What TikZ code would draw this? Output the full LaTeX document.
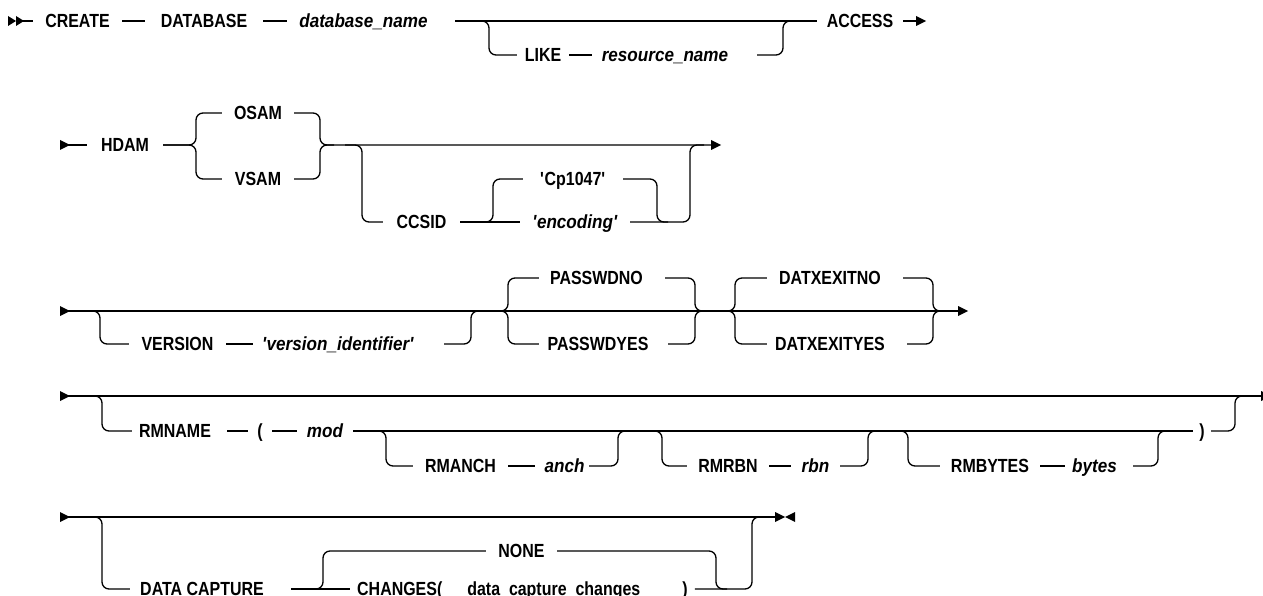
\documentclass[tikz,border=0pt]{standalone}
\usepackage{fontspec}
\setmainfont{Liberation Sans}[FakeStretch=0.84]
\newfontfamily\varfont{Liberation Sans}[FakeStretch=0.9]
\begin{document}
\begin{tikzpicture}[x=1pt,y=-1pt,
  kw/.style={inner xsep=0pt, inner ysep=0pt, text height=13.5pt, text depth=0pt, font=\fontsize{19}{21}\selectfont\bfseries, anchor=center},
  var/.style={kw, font=\fontsize{19}{21}\selectfont\varfont\bfseries\itshape},
  rail/.style={line width=1.3pt, rounded corners=7pt},
  track/.style={line width=1.3pt},
  tip/.style={fill=black}]
\useasboundingbox (0,0) rectangle (1263,596);

% ---------------- Row 1 ----------------
\fill[tip] (8,16) -- (16,21) -- (8,26) -- cycle;
\fill[tip] (16,16) -- (24,21) -- (16,26) -- cycle;
\node[kw,minimum width=89] (create) at (77.5,21) {CREATE};
\node[kw,minimum width=118] (database) at (204,21) {DATABASE};
\node[var,minimum width=168] (dbname) at (371,21) {database\_name\hspace*{15pt}};
\node[kw,minimum width=86] (access) at (860,21) {ACCESS};
\coordinate (end1) at (917,21);
\draw[track] (20,21) -- (create) -- (database) -- (dbname) -- (access) -- (end1);
\fill[tip] (916,16) -- (926,21) -- (916,26) -- cycle;
\node[kw,minimum width=52] (like) at (543,55) {LIKE};
\node[var,minimum width=165] (resname) at (674.5,55) {resource\_name\hspace*{19pt}};
\draw[rail] (476,21) -- (489,21) -- (489,55) -- (like.west);
\draw[track] (like) -- (resname);
\draw[rail] (resname.east) -- (783,55) -- (783,21) -- (796,21);

% ---------------- Row 2 ----------------
\fill[tip] (60,140) -- (70,145) -- (60,150) -- cycle;
\node[kw,minimum width=76] (hdam) at (125,145) {HDAM};
\draw[track] (65,145) -- (hdam);
\node[kw,minimum width=72] (osam) at (258,113) {OSAM};
\node[kw,minimum width=72] (vsam) at (258,179) {VSAM};
\draw[rail] (hdam.east) -- (196,145) -- (196,113) -- (osam.west);
\draw[rail] (hdam.east) -- (196,145) -- (196,179) -- (vsam.west);
\draw[rail] (osam.east) -- (320,113) -- (320,145) -- (712,145);
\draw[rail] (vsam.east) -- (320,179) -- (320,145) -- (334,145);
\fill[tip] (711,140) -- (721,145) -- (711,150) -- cycle;
\node[kw,minimum width=77] (ccsid) at (421.5,222) {CCSID};
\node[kw,minimum width=100] (cp) at (573,179) {\textquotesingle Cp1047\textquotesingle};
\node[var,minimum width=110] (enc) at (575,222) {\textquotesingle encoding\textquotesingle};
\draw[rail] (345,145) -- (362,145) -- (362,222) -- (ccsid.west);
\draw[track] (ccsid) -- (enc);
\draw[rail] (475,222) -- (493,222) -- (493,179) -- (cp.west);
\draw[rail] (cp.east) -- (657,179) -- (657,222) -- (668,222);
\draw[rail] (enc.east) -- (690,222) -- (690,145) -- (704,145);

% ---------------- Row 3 ----------------
\fill[tip] (60,306) -- (70,311) -- (60,316) -- cycle;
\draw[track] (65,311) -- (958,311);
\fill[tip] (958,306) -- (968,311) -- (958,316) -- cycle;
\node[kw,minimum width=97] (version) at (177.5,344) {VERSION};
\node[var,minimum width=191] (vid) at (348.5,344) {\textquotesingle version\_identifier\textquotesingle\hspace*{21pt}};
\draw[rail] (85,311) -- (100,311) -- (100,344) -- (version.west);
\draw[track] (version) -- (vid);
\draw[rail] (vid.east) -- (471,344) -- (471,311) -- (485,311);
\node[kw,minimum width=126] (pno) at (602,278) {PASSWDNO\hspace*{11pt}};
\node[kw,minimum width=129] (pyes) at (603.5,344) {PASSWDYES\hspace*{11pt}};
\draw[rail] (495,311) -- (508,311) -- (508,278) -- (pno.west);
\draw[rail] (495,311) -- (508,311) -- (508,344) -- (pyes.west);
\draw[rail] (pno.east) -- (695,278) -- (695,311) -- (708,311);
\draw[rail] (pyes.east) -- (695,344) -- (695,311) -- (708,311);
\node[kw,minimum width=136] (dno) at (835,278) {DATXEXITNO\hspace*{10pt}};
\node[kw,minimum width=140] (dyes) at (837,344) {DATXEXITYES\hspace*{14pt}};
\draw[rail] (722,311) -- (735,311) -- (735,278) -- (dno.west);
\draw[rail] (722,311) -- (735,311) -- (735,344) -- (dyes.west);
\draw[rail] (dno.east) -- (933,278) -- (933,311) -- (946,311);
\draw[rail] (dyes.east) -- (933,344) -- (933,311) -- (946,311);

% ---------------- Row 4 ----------------
\fill[tip] (60,391) -- (70,396) -- (60,401) -- cycle;
\draw[track] (65,396) -- (1262,396);
\fill[tip] (1261,391) -- (1271,396) -- (1261,401) -- cycle;
\node[kw,minimum width=95] (rmname) at (179.5,431) {RMNAME\hspace*{9pt}};
\node[kw,minimum width=24] (lp) at (260,431) {(};
\node[var,minimum width=56] (mod) at (325,431) {mod};
\node[kw,minimum width=18] (rp) at (1202,431) {)};
\draw[rail] (85,396) -- (102,396) -- (102,431) -- (rmname.west);
\draw[track] (rmname) -- (lp) -- (mod) -- (rp);
\draw[rail] (rp.east) -- (1235,431) -- (1235,396) -- (1248,396);
\node[kw,minimum width=95] (rmanch) at (460.5,466) {RMANCH};
\node[var,minimum width=54] (anch) at (562,466) {\hspace*{5pt}anch};
\draw[rail] (370,431) -- (386,431) -- (386,466) -- (rmanch.west);
\draw[track] (rmanch) -- (anch);
\draw[rail] (anch.east) -- (618,466) -- (618,431) -- (631,431);
\node[kw,minimum width=82] (rmrbn) at (728,466) {RMRBN};
\node[var,minimum width=49] (rbn) at (815.5,466) {rbn};
\draw[rail] (645,431) -- (662,431) -- (662,466) -- (rmrbn.west);
\draw[track] (rmrbn) -- (rbn);
\draw[rail] (rbn.east) -- (868,466) -- (868,431) -- (881,431);
\node[kw,minimum width=100] (rmbytes) at (990,466) {RMBYTES};
\node[var,minimum width=68] (bytes) at (1099,466) {bytes\hspace*{9pt}};
\draw[rail] (892,431) -- (908,431) -- (908,466) -- (rmbytes.west);
\draw[track] (rmbytes) -- (bytes);
\draw[rail] (bytes.east) -- (1158,466) -- (1158,431) -- (1171,431);

% ---------------- Row 5 ----------------
\fill[tip] (60,512) -- (70,517) -- (60,522) -- cycle;
\draw[track] (65,517) -- (776,517);
\fill[tip] (775,512) -- (785,517) -- (775,522) -- cycle;
\fill[tip] (795,512) -- (785,517) -- (795,522) -- cycle;
\node[kw,minimum width=161] (dc) at (210.5,589) {DATA CAPTURE\hspace*{17pt}};
\node[kw,minimum width=71] (none) at (521.5,551) {NONE};
\node[kw,anchor=west,inner xsep=7pt] (chg) at (350,589) {CHANGES(\hspace*{25pt}data\_capture\_changes\hspace*{42pt})};
\draw[rail] (85,517) -- (102,517) -- (102,589) -- (dc.west);
\draw[track] (dc) -- (chg);
\draw[rail] (300,589) -- (323,589) -- (323,551) -- (none.west);
\draw[rail] (none.east) -- (716,551) -- (716,589) -- (727,589);
\draw[rail] (chg.east) -- (752,589) -- (752,517) -- (765,517);
\end{tikzpicture}
\end{document}
